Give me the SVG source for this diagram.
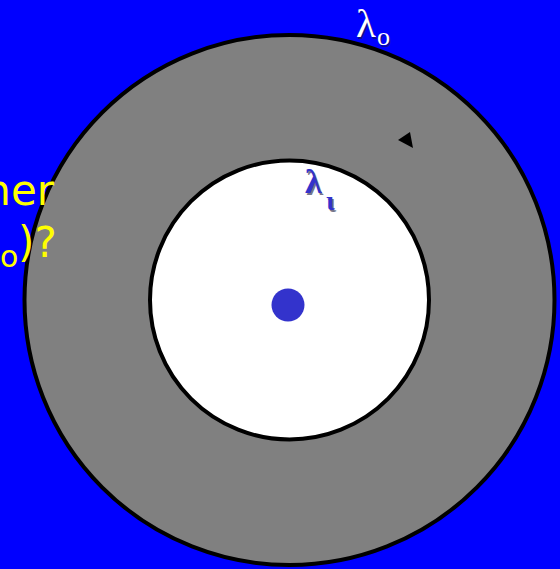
<svg xmlns="http://www.w3.org/2000/svg" width="560" height="569" viewBox="0 0 560 569">
<style>
.ring{stroke:#000;stroke-width:4}
.yl{fill:#ffff00;font-family:"DejaVu Sans","Noto Sans",sans-serif}
.lam{font-family:"Liberation Serif","DejaVu Serif",serif}
.sh{fill:#1a1a40;opacity:0.6}
</style>
<rect x="0" y="0" width="560" height="569" fill="#0000ff"/>
<g id="outer-region">
<circle class="ring" cx="289.5" cy="300" r="265" fill="#808080"/>
</g>
<g id="inner-region">
<circle class="ring" cx="289.5" cy="300" r="139.5" fill="#ffffff"/>
</g>
<g id="center-dot">
<circle cx="288" cy="305" r="16.5" fill="#3333cc"/>
</g>
<g id="arrowhead">
<polygon points="398,140 410,132 413,148" fill="#000"/>
</g>
<g id="question-text">
<text class="yl" x="54" y="205" font-size="42" text-anchor="end">ner</text>
<text class="yl" font-size="42"><tspan x="0" y="267" font-size="30">o</tspan><tspan x="18" y="257">)?</tspan></text>
</g>
<g id="label-lambda-o">
<text class="lam sh" x="357.5" y="38.5" font-size="41">λ</text>
<text class="lam sh" x="378.5" y="46.5" font-size="26">o</text>
<text class="lam" x="356" y="37" font-size="41" fill="#ffffff">λ</text>
<text class="lam" x="377" y="45" font-size="26" fill="#ffffff">o</text>
</g>
<g id="label-lambda-i">
<text class="lam sh" x="306.5" y="194.5" font-size="34" font-weight="bold">λ</text>
<text class="lam sh" x="327.5" y="211.5" font-size="28" font-weight="bold">ι</text>
<text class="lam" x="305" y="193" font-size="34" font-weight="bold" fill="#3333cc">λ</text>
<text class="lam" x="326" y="210" font-size="28" font-weight="bold" fill="#3333cc">ι</text>
</g>
</svg>
